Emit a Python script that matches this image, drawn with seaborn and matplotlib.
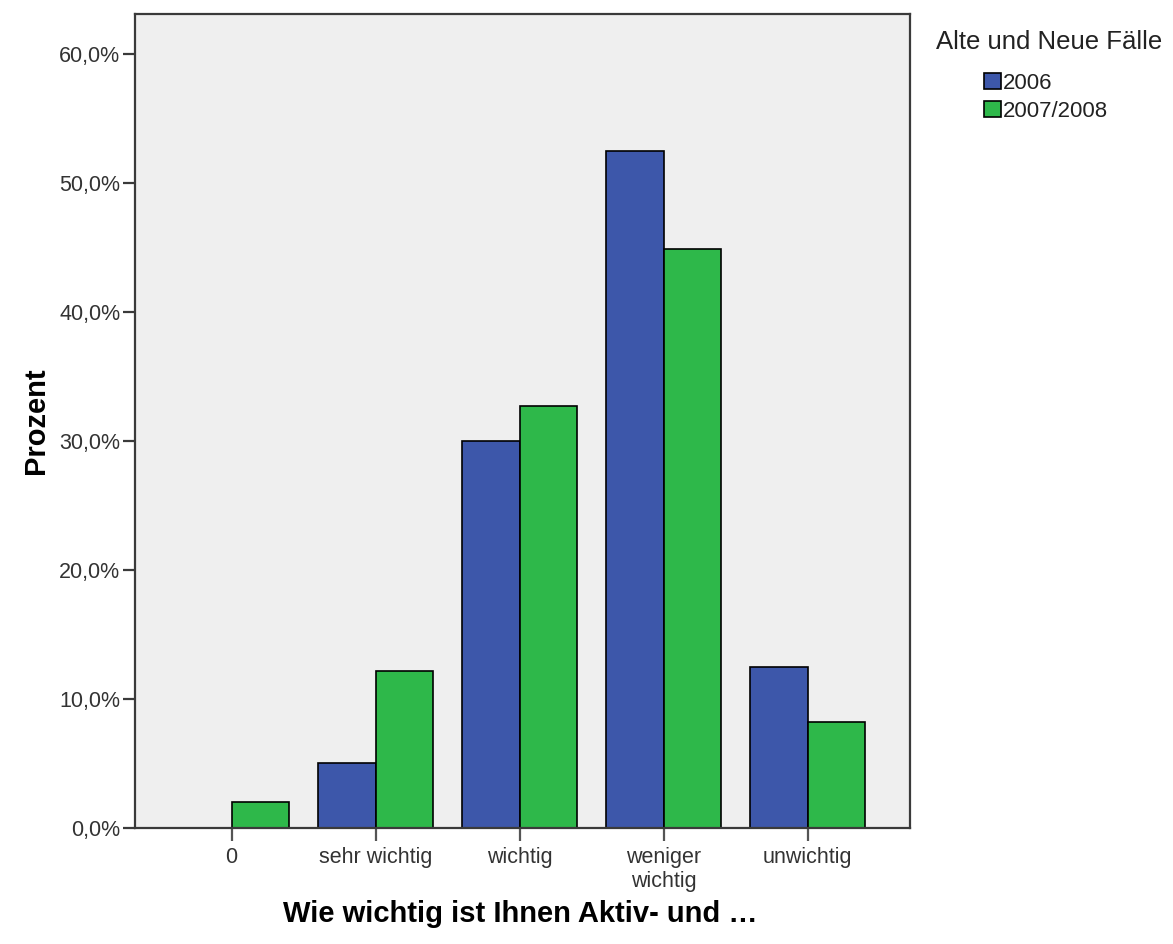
import pandas as pd
import numpy as np
import matplotlib
matplotlib.use('Agg')
import matplotlib.pyplot as plt
import seaborn as sns

# Werte
kategorien = ['0', 'sehr wichtig', 'wichtig', 'weniger\nwichtig', 'unwichtig']
prozent_2006 = [0.0, 5.0, 30.0, 52.5, 12.5]
prozent_2007_2008 = [2.0, 12.2, 32.7, 44.9, 8.2]
gruppen = ['2006', '2007/2008']
farben = ['#3D57AA', '#2EB84A']

data = pd.DataFrame({
    'Kategorie': kategorien * 2,
    'Prozent': prozent_2006 + prozent_2007_2008,
    'Gruppe': [gruppen[0]] * len(kategorien) + [gruppen[1]] * len(kategorien),
})

sns.set_theme(style='ticks')
plt.rcParams['font.family'] = ['Liberation Sans', 'DejaVu Sans']

fig = plt.figure(figsize=(11.73, 9.44), dpi=100)
ax = fig.add_axes([135/1173, 1 - 828/944, 775/1173, 814/944])
ax.set_facecolor('#EFEFEF')

sns.barplot(data=data, x='Kategorie', y='Prozent', hue='Gruppe', order=kategorien,
            hue_order=gruppen, palette=farben, width=0.8, edgecolor='black',
            linewidth=1.2, saturation=1, ax=ax)

ax.set_xlim(-0.67, 4.71)
ax.set_ylim(0, 63.1)
ax.set_yticks([0, 10, 20, 30, 40, 50, 60])
ax.set_yticklabels(['0,0%', '10,0%', '20,0%', '30,0%', '40,0%', '50,0%', '60,0%'])

for s in ax.spines.values():
    s.set_color('#3a3a3a')
    s.set_linewidth(1.6)

ax.tick_params(axis='y', length=9, width=1.6, color='#3a3a3a', pad=1.5, labelsize=15.5, labelcolor='#333333')
ax.tick_params(axis='x', length=9.5, width=1.6, color='#555555', pad=4, labelsize=15.5, labelcolor='#333333')

ax.set_ylabel('Prozent', fontsize=21, fontweight='bold', color='black')
ax.yaxis.set_label_coords(-0.11, 0.5)
ax.set_xlabel('Wie wichtig ist Ihnen Aktiv- und …', fontsize=21, fontweight='bold', color='black')
ax.xaxis.set_label_coords(0.497, -0.088)

# Legende: Titel separat, Eintraege eingerueckt
ax.get_legend().remove()
handles, labels = ax.get_legend_handles_labels()
fig.text(936/1173, 1 - 42/944, 'Alte und Neue Fälle', fontsize=18.5, color='#222222',
         ha='left', va='center')
leg = fig.legend(handles, labels, loc='upper left',
                 bbox_to_anchor=(984/1173, 1 - 73/944), frameon=False,
                 fontsize=16, handlelength=0.75, handleheight=0.75,
                 handletextpad=0.1, labelspacing=0.3, borderpad=0, borderaxespad=0)
for t in leg.get_texts():
    t.set_color('#222222')

fig.savefig('out.png', dpi=100, facecolor='white')
